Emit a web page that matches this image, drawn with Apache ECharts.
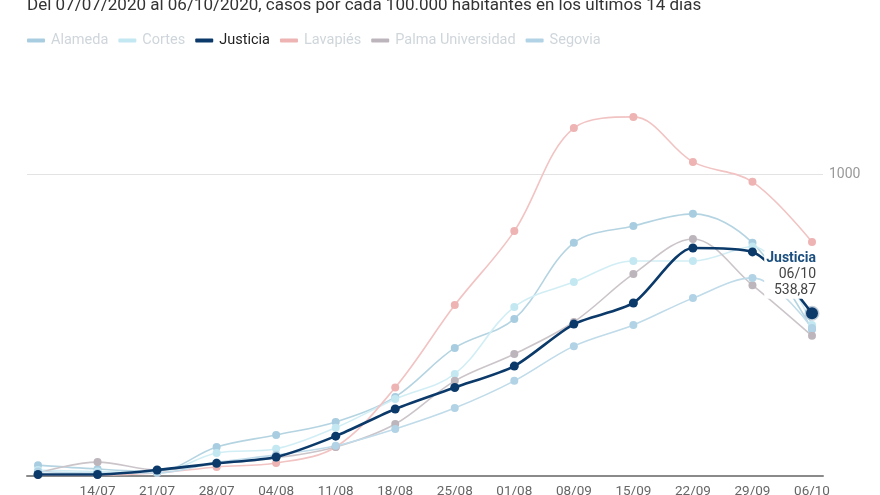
<!DOCTYPE html>
<html><head><meta charset="utf-8">
<script src="https://cdn.jsdelivr.net/npm/echarts@6/dist/echarts.min.js"></script>
<style>html,body{margin:0;padding:0;background:#fff}#c{width:880px;height:495px}</style>
</head><body><div id="c"></div>
<script>
var categories = ['07/07','14/07','21/07','28/07','04/08','11/08','18/08','25/08','01/08','08/09','15/09','22/09','29/09','06/10'];
var alameda   = [36, 23, 15, 96, 136, 179, 262, 424, 520, 772, 828, 868, 772, 485];
var cortes    = [20, 15, 12, 76, 90, 160, 255, 338, 560, 642, 712, 712, 760, 500];
var justicia  = [5, 5, 20, 42, 63, 132, 222, 293, 364, 503, 573, 755, 742, 538.87];
var lavapies  = [3, 3, 10, 30, 43, 96, 293, 566, 811, 1152, 1189, 1040, 974, 775];
var palma     = [10, 46, 20, 40, 60, 96, 172, 315, 404, 510, 669, 785, 632, 464];
var segovia   = [15, 10, 10, 45, 70, 100, 156, 225, 315, 430, 500, 589, 656, 490];
var yTicks = [0, 1000];

var faded = [
  {name:'Alameda', data:alameda, color:'#b5d4e2', sym:'#a9cde0'},
  {name:'Cortes', data:cortes, color:'#d2eef5', sym:'#c4e8f2'},
  {name:'Lavapiés', data:lavapies, color:'#f2c3c3', sym:'#eeb3b3'},
  {name:'Palma Universidad', data:palma, color:'#cbc5ca', sym:'#bdb5bc'},
  {name:'Segovia', data:segovia, color:'#c0dbe9', sym:'#b1d3e5'}
];
var series = faded.map(function(s){
  return {name:s.name, type:'line', data:s.data, xAxisIndex:1, yAxisIndex:1, clip:false,
    smooth:0.35, symbol:'circle', symbolSize:8, z:2,
    lineStyle:{color:s.color, width:1.6}, itemStyle:{color:s.sym}, color:s.color};
});
var last = justicia.length - 1;
var jData = justicia.map(function(v,i){
  if (i === last) {
    return {value:v, symbolSize:12,
      itemStyle:{color:'#0b3a6a', borderColor:'rgba(11,58,106,0.25)', borderWidth:3},
      label:{show:true, position:'top', align:'right', distance:7, offset:[4,0],
        backgroundColor:'#fff', padding:[0,0,0,2], lineHeight:15,
        formatter:'{a|Justicia}\n{b|' + categories[i] + '}\n{b|' + String(v).replace('.', ',') + '}',
        rich:{a:{fontFamily:'Roboto', fontSize:14, fontWeight:'bold', color:'#1b4f7f', align:'right', lineHeight:16},
              b:{fontFamily:'Roboto', fontSize:14, color:'#444', align:'right', lineHeight:16}}}};
  }
  return v;
});
series.push({name:'Justicia', type:'line', data:jData, xAxisIndex:1, yAxisIndex:1, clip:false,
  smooth:0.25, symbol:'circle', symbolSize:9, z:5,
  lineStyle:{color:'#0b3a6a', width:2.6}, itemStyle:{color:'#0b3a6a'}, color:'#0b3a6a'});
var order = ['Alameda','Cortes','Justicia','Lavapiés','Palma Universidad','Segovia'];
var legendData = order.map(function(n){
  return {name:n, textStyle:{color: n === 'Justicia' ? '#222' : '#cfd6db'}};
});

var chart = echarts.init(document.getElementById('c'));
chart.setOption({
  animation:false,
  textStyle:{fontFamily:'Roboto'},
  title:{text:'Del 07/07/2020 al 06/10/2020, casos por cada 100.000 habitantes en los últimos 14 días',
    left:27, top:-3, padding:0, textStyle:{fontFamily:'Roboto', fontSize:17, fontWeight:'normal', color:'#333'}},
  legend:{left:27, top:33, padding:0, itemGap:10, itemWidth:18, itemHeight:4, icon:'roundRect',
    selectedMode:false, data:legendData,
    textStyle:{fontFamily:'Roboto', fontSize:14.5, padding:[0,0,0,1]}},
  grid:[{left:27, right:57, top:174, bottom:19, containLabel:false, outerBoundsMode:'none'},
        {left:38, right:68, top:174, bottom:19, containLabel:false, outerBoundsMode:'none'}],
  xAxis:[
    {gridIndex:0, type:'value', min:0, max:1, axisLine:{show:true, onZero:false, lineStyle:{color:'#8a8a8a', width:2}},
     axisTick:{show:false}, axisLabel:{show:false}, splitLine:{show:false}},
    {gridIndex:1, type:'category', boundaryGap:false, data:categories,
     axisLine:{show:false}, axisTick:{show:false}, splitLine:{show:false},
     axisLabel:{interval:0, color:'#666', fontSize:13.5, margin:9, fontFamily:'Roboto',
       formatter:function(v, i){ return i === 0 ? '' : v; }}}
  ],
  yAxis:[
    {gridIndex:0, type:'value', position:'right', min:yTicks[0], max:yTicks[1], interval:1000,
     axisLine:{show:false}, axisTick:{show:false},
     splitLine:{lineStyle:{color:'#e3e3e3', width:1}},
     axisLabel:{color:'#999', fontSize:14, margin:6, fontFamily:'Roboto',
       formatter:function(v){ return v === 0 ? '' : String(v); }}},
    {gridIndex:1, type:'value', min:yTicks[0], max:yTicks[1], show:false}
  ],
  series:series
});
</script></body></html>
